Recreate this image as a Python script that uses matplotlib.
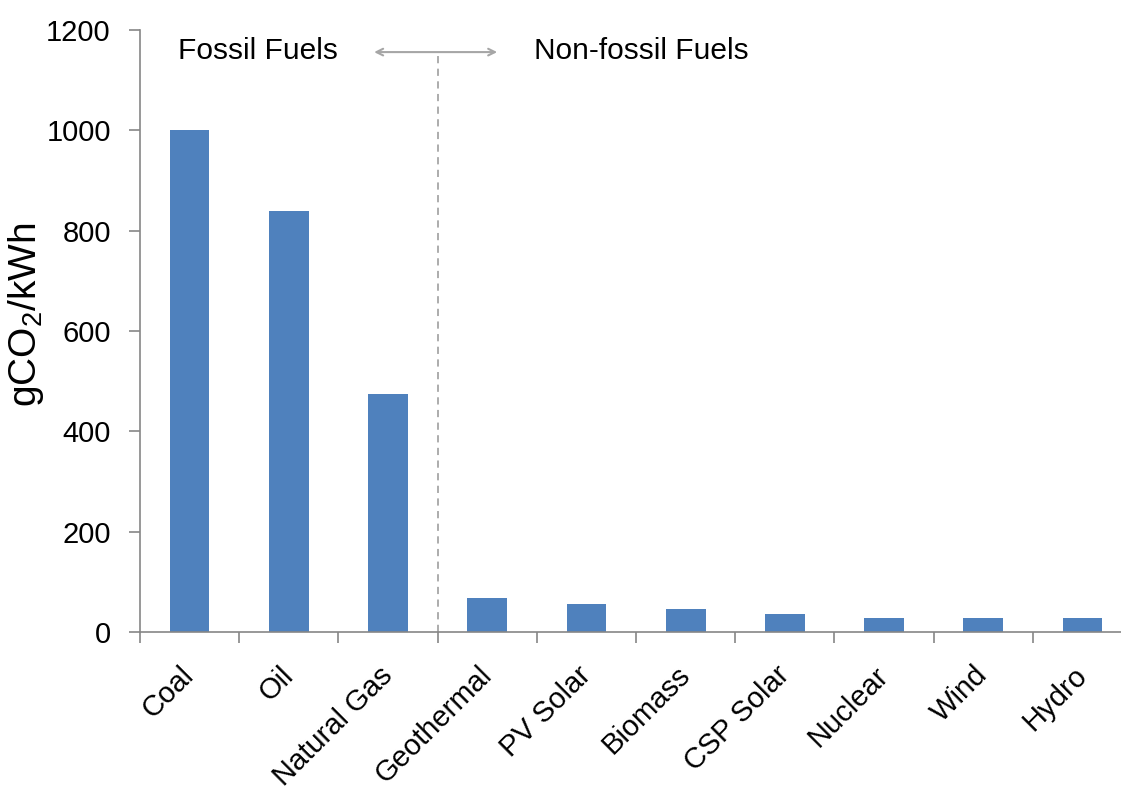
import numpy as np
import matplotlib.pyplot as plt

plt.rcParams['font.family'] = ['Liberation Sans', 'DejaVu Sans']
plt.rcParams['mathtext.default'] = 'regular'

# lifecycle emissions by generation source
categories = ['Coal', 'Oil', 'Natural Gas', 'Geothermal', 'PV Solar', 'Biomass',
              'CSP Solar', 'Nuclear', 'Wind', 'Hydro']
emissions = [1000, 840, 474, 68, 55, 45, 35, 27, 27, 27]

bar_color = '#4F81BD'
axis_gray = '#868686'
guide_gray = '#A6A6A6'

fig = plt.figure(figsize=(11.21, 7.90), dpi=100)
ax = fig.add_axes([0.1249, 0.2, 0.885, 0.762])

x = np.arange(len(categories))
ax.bar(x, emissions, width=0.4, color=bar_color, zorder=2)

ax.set_xlim(-0.5, len(categories) - 0.5)
ax.set_ylim(0, 1200)
ax.set_yticks(np.arange(0, 1201, 200))

# category labels at the centres, tick marks on the boundaries
ax.set_xticks(x)
ax.set_xticklabels(categories, rotation=45, ha='right', va='center',
                   rotation_mode='anchor', fontsize=21)
ax.set_xticks(np.arange(-0.5, len(categories)), minor=True)
ax.tick_params(axis='x', which='major', length=0, pad=28)
ax.tick_params(axis='x', which='minor', length=8, width=1.2, color=axis_gray, direction='out')
ax.tick_params(axis='y', length=8, width=1.2, color=axis_gray, labelsize=21, pad=13)

for side in ('top', 'right'):
    ax.spines[side].set_visible(False)
for side in ('left', 'bottom'):
    ax.spines[side].set_color(axis_gray)
    ax.spines[side].set_linewidth(1.2)

ax.set_ylabel('gCO$_2$/kWh', fontsize=28, labelpad=0)
ax.yaxis.set_label_coords(-0.095, 0.527)

# fossil / non-fossil divider
split = 2.5
arrow_y = 1156
ax.plot([split, split], [0, arrow_y], color=guide_gray, linestyle=(0, (4, 3)), lw=1.3, zorder=1)
ax.annotate('', xy=(1.86, arrow_y), xytext=(3.1, arrow_y),
            arrowprops=dict(arrowstyle='<->', color=guide_gray, lw=1.5,
                            shrinkA=0, shrinkB=0, mutation_scale=12))
ax.text(0.69, 1158, 'Fossil Fuels', ha='center', va='center', fontsize=21.5)
ax.text(4.55, 1158, 'Non-fossil Fuels', ha='center', va='center', fontsize=21.5)

fig.savefig('out.png', dpi=100)
